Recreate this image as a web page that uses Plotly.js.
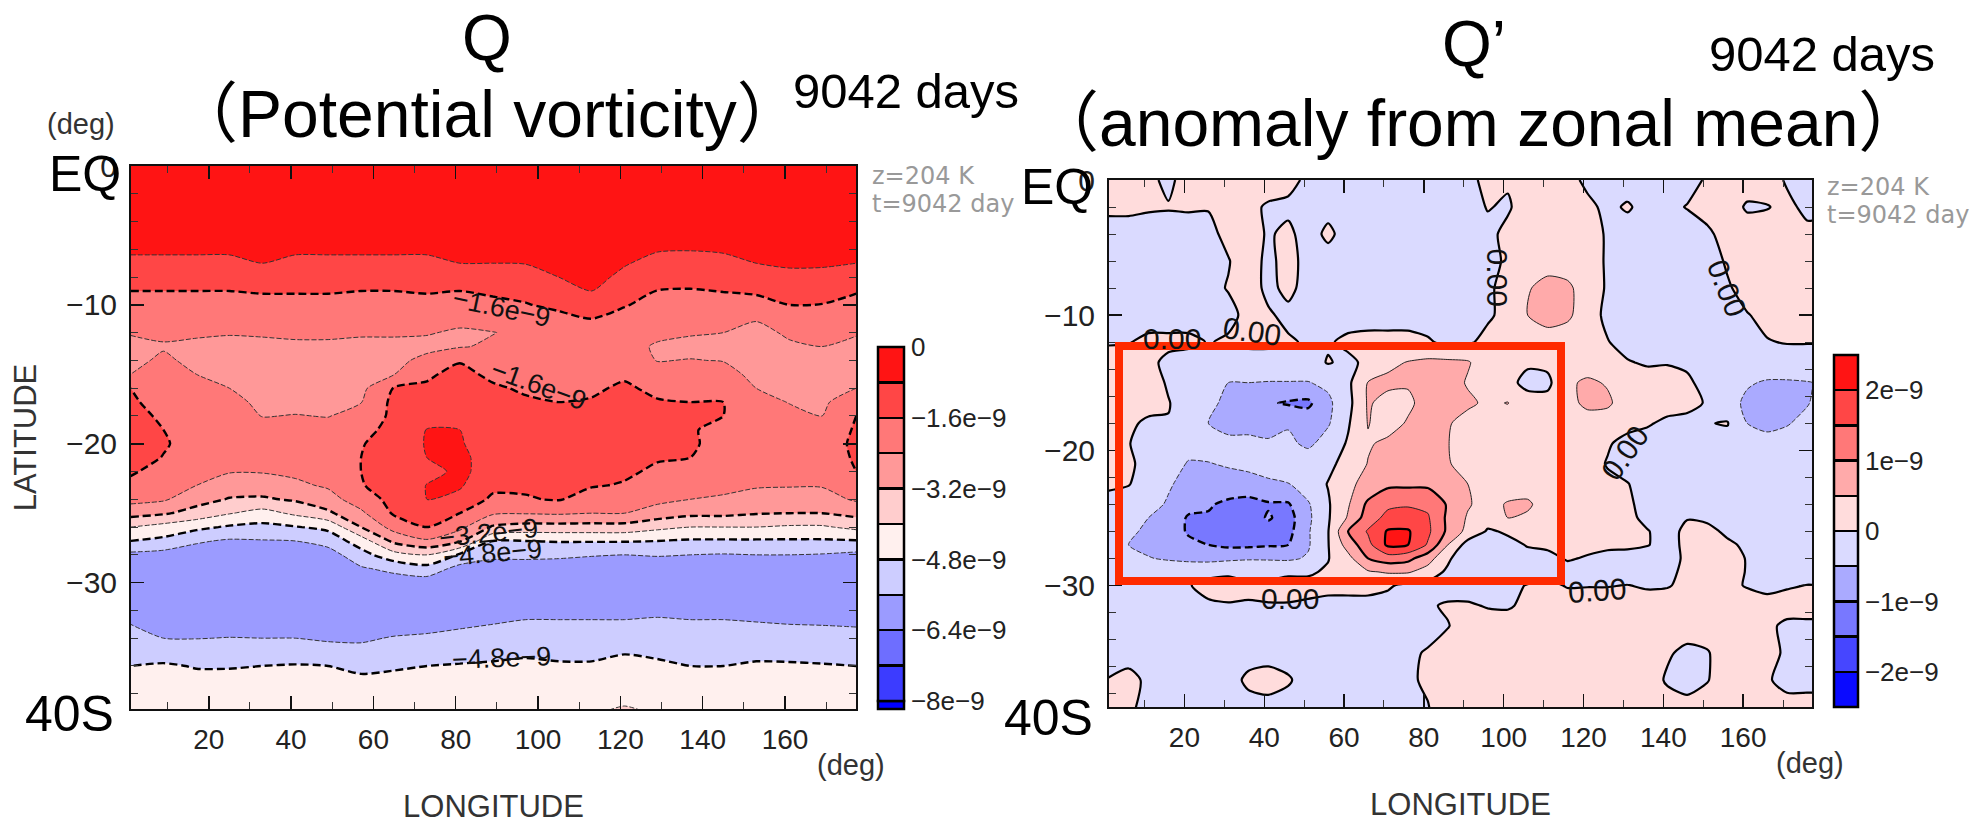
<!DOCTYPE html>
<html><head><meta charset="utf-8">
<script src="https://cdn.plot.ly/plotly-3.0.1.min.js"></script>
<style>html,body{margin:0;padding:0;background:#fff}#c{width:1984px;height:824px}</style>
</head><body><div id="c"></div>
<script>
// ---- Q : potential vorticity, unit 1e-9; one list per longitude
const qLat=[0,-5,-6,-7,-8,-9,-10,-11,-12,-13,-14,-15,-16,-17,-18,-19,-20,-21,-22,-23,-24,-25,-26,-27,-28,-29,-30,-32,-33,-34,-35,-36,-37,-39.2];
const qLon=[1,9,17,25,33,41,49,57,65,73,81,89,97,105,113,121,129,137,145,153,161,169,177.3];
const qColumns=[
[-.2,-.55,-.7,-.95,-1.25,-1.6,-1.85,-2.1,-2.35,-2.6,-2.55,-2.4,-1.6,-1.5,-1.4,-1.4,-1.35,-1.4,-1.5,-1.8,-2.15,-2.9,-4,-4.8,-5.8,-6,-6.1,-5.9,-5.6,-5.35,-5.1,-4.8,-4.55,-4.3],
[-.2,-.55,-.7,-.95,-1.25,-1.6,-1.85,-2.1,-2.3,-2.45,-2.3,-2.15,-2,-1.85,-1.7,-1.6,-1.55,-1.62,-1.9,-2.15,-2.3,-3.1,-4.3,-5,-5.9,-6.1,-6.2,-6.1,-5.8,-5.6,-5.2,-4.7,-4.5,-4.3],
[-.2,-.55,-.7,-.95,-1.25,-1.6,-1.85,-2.1,-2.3,-2.55,-2.55,-2.4,-2.2,-2,-1.9,-1.8,-1.8,-1.9,-2.1,-2.4,-2.9,-3.5,-4.6,-5.5,-6,-6.2,-6.3,-6.2,-5.9,-5.62,-5.2,-4.85,-4.6,-4.3],
[-.2,-.55,-.7,-.95,-1.25,-1.6,-1.85,-2.1,-2.35,-2.6,-2.65,-2.55,-2.4,-2.2,-2,-1.9,-1.9,-2.05,-2.35,-2.8,-3.25,-3.95,-4.9,-5.7,-6.1,-6.2,-6.3,-6.2,-5.9,-5.58,-5.3,-4.85,-4.6,-4.3],
[-.2,-.5,-.65,-.8,-1.15,-1.55,-1.8,-2.1,-2.33,-2.55,-2.7,-2.75,-2.7,-2.55,-2.42,-2.2,-2.1,-2.2,-2.35,-2.8,-3.3,-4.3,-5,-5.65,-6.1,-6.2,-6.3,-6.15,-5.85,-5.6,-5.2,-4.8,-4.55,-4.3],
[-.2,-.55,-.7,-.95,-1.25,-1.55,-1.8,-2.05,-2.3,-2.5,-2.65,-2.7,-2.65,-2.55,-2.38,-2.15,-2.05,-2.1,-2.25,-2.55,-3.1,-3.85,-4.85,-5.6,-6.05,-6.2,-6.3,-6.15,-5.85,-5.6,-5.2,-4.75,-4.55,-4.3],
[-.2,-.55,-.7,-.95,-1.25,-1.55,-1.8,-2.05,-2.3,-2.5,-2.6,-2.65,-2.65,-2.6,-2.42,-2.2,-2.1,-2.1,-2.2,-2.3,-2.7,-3.35,-4.6,-5.3,-5.95,-6.1,-6.2,-6.15,-5.9,-5.7,-5.3,-4.8,-4.55,-4.3],
[-.2,-.55,-.7,-.95,-1.25,-1.6,-1.85,-2.1,-2.33,-2.55,-2.65,-2.65,-2.6,-2.42,-2.2,-1.9,-1.65,-1.6,-1.6,-1.65,-2,-2.55,-3.2,-4.4,-5.1,-5.7,-6.1,-6.2,-5.95,-5.7,-5.4,-5,-4.65,-4.3],
[-.2,-.55,-.7,-.95,-1.25,-1.6,-1.85,-2.1,-2.33,-2.55,-2.6,-2.42,-1.55,-1.4,-1.4,-1.3,-1.25,-1.2,-1.2,-1.25,-1.35,-1.5,-2.1,-3,-4.3,-5.4,-6,-6.1,-5.9,-5.55,-5.2,-4.9,-4.6,-4.3],
[-.2,-.55,-.7,-.95,-1.25,-1.55,-1.8,-2.05,-2.35,-2.6,-2.2,-1.7,-1.5,-1.35,-1,-.78,-.75,-.8,-.95,-.78,-.78,-1.2,-1.6,-2.5,-4,-5.1,-6,-6.1,-5.8,-5.5,-5.15,-4.8,-4.55,-4.3],
[-.2,-.5,-.62,-.8,-1.15,-1.6,-1.85,-2.2,-2.5,-2.45,-1.65,-1.4,-1.3,-1.2,-1,-.8,-.75,-.7,-.7,-.72,-1,-1.6,-2.2,-3.1,-4.9,-5.9,-6.1,-6.05,-5.7,-5.4,-5.05,-4.75,-4.5,-4.25],
[-.2,-.5,-.62,-.8,-1.1,-1.5,-1.75,-2.1,-2.42,-2.3,-2.1,-1.75,-1.5,-1.4,-1.3,-1.2,-1.1,-1,-1,-1.4,-1.75,-2.3,-3.3,-4.8,-5.4,-6,-6.1,-5.9,-5.6,-5.35,-5,-4.7,-4.45,-4.2],
[-.2,-.48,-.6,-.78,-1.05,-1.35,-1.65,-2,-2.25,-2.35,-2.3,-2.1,-1.7,-1.5,-1.45,-1.45,-1.45,-1.45,-1.45,-1.5,-1.65,-2.35,-3.5,-4.8,-5.4,-6,-6.1,-5.8,-5.5,-5.3,-4.95,-4.6,-4.35,-4.1],
[-.2,-.42,-.5,-.65,-.8,-1.1,-1.4,-1.85,-2.15,-2.35,-2.35,-2.2,-1.85,-1.6,-1.5,-1.45,-1.45,-1.45,-1.45,-1.5,-1.55,-2.3,-3.5,-4.75,-5.45,-6,-6.1,-5.8,-5.5,-5.3,-5,-4.7,-4.4,-4.1],
[-.15,-.35,-.42,-.5,-.6,-.8,-1.2,-1.6,-2,-2.2,-2.2,-2,-1.7,-1.55,-1.5,-1.45,-1.45,-1.45,-1.5,-1.55,-1.9,-2.4,-3.5,-4.75,-5.55,-6,-6.1,-5.8,-5.5,-5.3,-5,-4.7,-4.4,-4.05],
[-.2,-.5,-.62,-.75,-.95,-1.25,-1.55,-1.85,-2.1,-2.25,-2.15,-1.7,-1.5,-1.4,-1.4,-1.4,-1.4,-1.45,-1.5,-1.65,-2.1,-2.4,-3.5,-4.75,-5.6,-6,-6.1,-5.8,-5.5,-5.2,-4.85,-4.55,-4.3,-3.95],
[-.2,-.6,-.75,-1,-1.3,-1.62,-1.85,-2.1,-2.3,-2.45,-2.42,-2.2,-1.75,-1.55,-1.45,-1.45,-1.45,-1.55,-1.7,-1.95,-2.2,-2.75,-3.8,-4.8,-5.55,-6,-6.1,-5.75,-5.45,-5.25,-4.95,-4.65,-4.4,-4.05],
[-.2,-.6,-.77,-1.05,-1.33,-1.65,-1.9,-2.1,-2.35,-2.55,-2.38,-2.1,-1.85,-1.6,-1.5,-1.55,-1.5,-1.6,-1.85,-2.1,-2.4,-3,-4,-4.9,-5.6,-6,-6.1,-5.8,-5.5,-5.3,-5.05,-4.8,-4.5,-4.1],
[-.2,-.58,-.72,-1,-1.28,-1.58,-1.85,-2.1,-2.4,-2.6,-2.42,-2.2,-1.95,-1.6,-1.6,-1.75,-1.85,-2,-2.15,-2.3,-2.45,-3,-4,-4.9,-5.65,-6,-6.1,-5.8,-5.5,-5.3,-5.05,-4.8,-4.5,-4.15],
[-.2,-.5,-.65,-.8,-1.1,-1.5,-1.85,-2.35,-2.6,-2.7,-2.65,-2.55,-2.4,-2.2,-1.9,-1.6,-1.85,-2.1,-2.2,-2.35,-2.6,-3.15,-4,-4.9,-5.6,-6,-6.1,-5.85,-5.55,-5.3,-5,-4.7,-4.45,-4.2],
[-.2,-.45,-.58,-.72,-.95,-1.3,-1.6,-2,-2.3,-2.5,-2.6,-2.6,-2.55,-2.42,-2.25,-2.1,-2,-2.05,-2.15,-2.35,-2.75,-3.2,-4.1,-4.9,-5.6,-6,-6.1,-5.9,-5.6,-5.35,-5.05,-4.7,-4.45,-4.25],
[-.2,-.45,-.58,-.72,-.98,-1.33,-1.62,-1.95,-2.25,-2.4,-2.6,-2.65,-2.6,-2.5,-2.4,-2.2,-2,-2.05,-2.2,-2.35,-2.7,-3.2,-4.1,-4.9,-5.65,-6,-6.1,-5.9,-5.62,-5.35,-5.05,-4.75,-4.5,-4.25],
[-.2,-.5,-.65,-.8,-1.15,-1.55,-1.8,-2.1,-2.35,-2.55,-2.65,-2.6,-2.4,-2.05,-1.6,-1.5,-1.45,-1.5,-1.6,-1.95,-2.3,-2.95,-3.8,-4.85,-5.8,-6.05,-6.1,-5.9,-5.65,-5.4,-5.1,-4.8,-4.55,-4.3]
];
// ---- Q' : anomaly from zonal mean, unit 1e-9; one list per latitude
const aLon=[1,6,11,16,21,26,31,36,41,46,51,56,61,66,71,76,81,86,91,96,101,106,111,116,121,126,131,136,141,146,151,156,161,166,171,176,177.3];
const aLat=[0,-2,-4,-6,-8,-10,-12,-13.5,-15,-16.5,-18,-19.5,-21,-22.5,-24,-25,-26,-27,-28,-29,-30,-31.5,-33,-35,-37,-39.2];
const aRows=[
[.2,.2,.1,-.1,.2,.2,.2,.2,.2,.15,-.1,-.2,-.2,-.2,-.2,-.2,-.2,-.2,-.1,.1,.05,.2,.2,.15,-.1,-.15,-.2,-.2,-.2,-.15,.05,.2,.2,.2,-.05,-.2,-.2],
[.1,.1,.05,.03,.05,.02,.15,.1,-.05,-.1,-.2,-.15,-.2,-.2,-.2,-.2,-.2,-.2,-.15,.02,-.05,.2,.2,.2,.1,-.1,.05,-.15,-.1,.02,.1,.2,-.05,-.02,.1,-.1,-.1],
[-.2,-.2,-.2,-.2,-.2,-.1,.1,.2,-.05,.1,-.2,.1,-.2,-.2,-.2,-.2,-.2,-.2,-.2,-.1,.1,.2,.2,.2,.2,-.05,-.2,-.2,-.2,-.2,-.05,.1,.2,.2,.1,.1,.1],
[-.2,-.2,-.2,-.2,-.2,-.15,-.02,.2,-.1,.15,-.15,-.2,-.2,-.2,-.2,-.2,-.2,-.2,-.2,-.1,.05,.25,.25,.25,.2,-.05,-.2,-.2,-.2,-.2,-.2,.05,.2,.2,.2,.2,.2],
[-.2,-.2,-.2,-.2,-.2,-.1,.02,.2,-.1,.1,-.15,-.2,-.2,-.2,-.2,-.2,-.2,-.2,-.2,-.05,.1,.45,.7,.6,.25,-.05,-.2,-.2,-.2,-.2,-.2,-.05,.15,.2,.2,.2,.2],
[-.2,-.2,-.2,-.2,-.2,-.2,-.1,.1,.05,-.1,-.2,-.2,-.2,-.2,-.2,-.2,-.2,-.2,-.2,-.05,.1,.5,.75,.6,.2,-.1,-.2,-.2,-.2,-.2,-.2,-.15,-.02,.1,.2,.2,.2],
[-.02,-.02,.1,.1,.1,-.02,.05,.1,.1,.05,-.05,-.05,.1,.15,.15,.15,.05,-.1,-.05,.1,.15,.2,.2,.2,.15,.02,-.15,-.2,-.2,-.2,-.2,-.2,-.1,-.02,.02,.02,.02],
[.1,.2,.1,-.1,-.2,-.2,-.2,-.2,-.2,-.2,-.2,.03,-.1,.1,.4,.52,.6,.6,.55,.2,.1,.05,.1,.2,.2,.15,.03,-.05,-.03,-.05,-.2,-.2,-.2,-.2,-.2,-.2,-.2],
[.1,.2,.2,-.05,-.2,-.2,-.5,-.5,-.52,-.52,-.52,-.4,-.1,.52,.6,.55,.7,.75,.45,.2,.1,-.1,-.1,.4,.6,.45,.2,.2,.2,.05,-.1,-.2,-.45,-.55,-.55,-.52,-.5],
[.15,.2,.2,.02,-.2,-.35,-.65,-.7,-.95,-1.05,-1.1,-.6,-.15,.55,.35,.4,.7,.75,.6,.4,.52,.15,.15,.3,.65,.6,.2,.2,.2,.1,-.03,-.3,-.6,-.7,-.65,-.55,-.45],
[.2,.1,-.1,-.02,-.2,-.5,-.7,-.7,-.65,-.55,-.7,-.55,-.05,.52,.3,.55,.7,.55,.3,.2,.2,.2,.2,.2,.2,.2,.15,.05,-.1,-.1,-.02,.03,-.5,-.65,-.55,-.3,-.2],
[.1,.02,-.2,-.2,-.25,-.3,-.35,-.35,-.45,-.4,-.6,-.3,.05,.45,.6,.7,.7,.52,.2,.2,.2,.2,.2,.2,.2,.05,-.15,-.2,-.2,-.2,-.2,-.2,-.2,-.3,-.2,-.15,-.15],
[.1,.05,-.1,-.2,-.55,-.52,-.45,-.4,-.25,-.2,-.2,-.1,.15,.52,.7,.8,.75,.55,.25,.2,.2,.2,.2,.2,.2,-.03,-.2,-.2,-.2,-.2,-.2,-.2,-.2,-.2,-.2,-.2,-.2],
[.05,.02,-.2,-.45,-.65,-.7,-.7,-.65,-.6,-.52,-.25,.02,.4,.65,.9,.9,.9,.75,.5,.25,.2,.2,.2,.2,.2,.1,.02,-.2,-.2,-.2,-.2,-.2,-.2,-.2,-.2,-.2,-.2],
[-.1,-.2,-.35,-.55,-.85,-.95,-1.1,-1.2,-1.05,-1.05,-.55,-.05,.45,1.1,1.4,1.45,1.4,.95,.55,.3,.55,.6,.2,.2,.2,.15,.05,-.1,-.2,-.2,-.2,-.2,-.2,-.2,-.2,-.2,-.2],
[-.2,-.35,-.5,-.7,-1.05,-1.05,-1.25,-1.25,-.95,-1.2,-.6,-.05,.55,1.25,1.65,1.7,1.55,.9,.45,.2,.5,.4,.2,.2,.2,.15,.1,-.1,-.2,-.02,-.1,-.2,-.2,-.2,-.2,-.2,-.2],
[-.2,-.45,-.55,-.75,-1.05,-1.05,-1.25,-1.25,-1.2,-1.15,-.55,-.02,1,1.55,2.05,2.05,1.6,.9,.35,-.05,.05,.15,.2,.2,.2,.15,.1,.02,-.15,.1,.15,-.1,-.2,-.2,-.2,-.2,-.2],
[-.2,-.5,-.6,-.65,-.9,-1,-1.1,-1.1,-1.05,-1,-.55,-.02,.7,1.35,2.1,2,1.45,.5,-.2,-.25,-.1,.02,.1,.1,.15,.1,.1,.02,-.15,.1,.15,.1,-.1,-.2,-.2,-.2,-.2],
[-.2,-.3,-.48,-.55,-.6,-.65,-.6,-.55,-.55,-.58,-.45,-.02,.35,1,1.25,1.15,.7,.1,-.45,-.3,-.1,-.1,-.15,.05,-.05,-.15,-.2,-.2,-.2,.1,.15,.15,-.02,-.2,-.2,-.2,-.2],
[-.2,-.2,-.2,-.2,-.2,-.1,-.05,-.1,-.15,-.05,-.05,.05,.2,.45,.55,.55,.3,-.1,-.15,-.05,-.2,-.2,-.2,-.2,-.2,-.2,-.2,-.2,-.1,.1,.15,.15,-.02,-.2,-.2,-.2,-.2],
[-.2,-.2,-.2,-.2,-.02,.1,.1,.05,.1,.1,.1,.1,.15,.15,.05,-.1,-.15,-.2,-.2,-.15,-.1,.02,.1,-.03,-.02,-.02,.01,-.05,-.03,.1,.15,.1,-.03,-.15,-.05,.01,.01],
[-.2,-.2,-.2,-.2,-.2,-.05,-.02,-.02,-.02,-.02,-.05,-.1,-.15,-.15,-.15,-.15,-.05,.05,.05,-.03,-.05,.1,.2,.2,.2,.2,.2,.2,.2,.2,.2,.2,.2,.2,.2,.2,.2],
[-.2,-.2,-.2,-.2,-.2,-.2,-.2,-.2,-.2,-.2,-.2,-.2,-.2,-.2,-.2,-.2,-.2,-.02,.2,.2,.2,.2,.2,.2,.2,.2,.2,.2,.2,.2,.2,.2,.2,.1,-.1,-.1,-.1],
[-.2,-.2,-.2,-.2,-.2,-.2,-.2,-.2,-.2,-.2,-.2,-.2,-.2,-.2,-.2,-.1,.05,.2,.2,.2,.2,.2,.2,.2,.2,.2,.2,.2,.05,-.1,-.03,.2,.2,.1,-.05,-.05,-.05],
[.02,.15,-.1,-.2,-.2,-.2,-.2,.1,.2,.05,-.2,-.2,-.2,-.2,-.2,-.05,.05,.2,.2,.2,.2,.2,.2,.02,.2,.2,.2,.2,-.05,-.2,-.02,.2,.2,.05,-.15,-.15,-.15],
[.05,.05,-.1,-.2,-.2,-.2,-.2,-.2,-.2,-.2,-.2,-.2,-.2,-.2,-.2,-.1,-.02,.2,.2,.2,.2,.2,.2,.2,.2,.2,.2,.2,.2,.2,.2,.2,.2,.2,.2,.2,.2]
];
// ---- colour bands, low to high
const qBandColors=['#3c3cff','#6e6eff','#9b9bff','#cdcdff','#fff0ee','#ffcdcd','#ff9898','#ff7878','#ff4646','#ff1414'];
const aBandColors=['#0a0aff','#4646ff','#7878ff','#aaaaff','#dadaff','#ffdcdc','#ffaaaa','#ff7878','#ff4646','#ff1414'];
const qBarTicks=[0,-.8,-1.6,-2.4,-3.2,-4,-4.8,-5.6,-6.4,-7.2,-8];
const qBarText=['0','','−1.6e−9','','−3.2e−9','','−4.8e−9','','−6.4e−9','','−8e−9'];
const aBarTicks=[2.5,2,1.5,1,.5,0,-.5,-1,-1.5,-2];
const aBarText=['','2e−9','','1e−9','','0','','−1e−9','','−2e−9'];
const lonTicks=[20,40,60,80,100,120,140,160];
const latTicks=[0,-10,-20,-30];
const latTickText=['0','−10','−20','−30'];

function stepScale(cols){const n=cols.length,o=[];cols.forEach((c,i)=>{o.push([i/n,c]);o.push([(i+1)/n,c]);});return o;}
const W=1984,H=824, px=x=>x/W, py=y=>1-y/H;
const sans='Liberation Sans, Arial, sans-serif';

function axisX(dom,anchor){return {domain:dom,anchor:anchor,range:[1.1,177.25],tickvals:lonTicks,ticktext:lonTicks.map(String),ticks:'inside',ticklen:13,tickwidth:1.5,tickcolor:'#111',
  minor:{dtick:10,tick0:0,ticks:'inside',ticklen:7,tickwidth:1,tickcolor:'#333'},showline:true,linecolor:'#111',linewidth:2,mirror:'allticks',showgrid:false,zeroline:false,
  tickfont:{family:sans,size:28,color:'#222'},ticklabelstandoff:4,
  title:{text:'LONGITUDE',font:{family:sans,size:31,color:'#333'},standoff:42}};}
function axisY(dom,anchor,low,withTitle){const a={domain:dom,anchor:anchor,range:[low,0],tickvals:latTicks,ticktext:latTickText,ticks:'inside',ticklen:13,tickwidth:1.5,tickcolor:'#111',
  minor:{dtick:2,tick0:0,ticks:'inside',ticklen:7,tickwidth:1,tickcolor:'#333'},showline:true,linecolor:'#111',linewidth:2,mirror:'allticks',showgrid:false,zeroline:false,
  tickfont:{family:sans,size:30,color:'#222'},ticklabelstandoff:6};
  if(withTitle)a.title={text:'LATITUDE',font:{family:sans,size:31,color:'#333'},standoff:20};return a;}

function bar(xpx,top,len,thick,vals,text){return {x:px(xpx),xanchor:'left',xref:'paper',y:py(top),yanchor:'top',yref:'paper',lenmode:'pixels',len:len,thicknessmode:'pixels',thickness:thick,xpad:0,ypad:0,
  outlinecolor:'#000',outlinewidth:2.5,tickmode:'array',tickvals:vals,ticktext:text,ticks:'inside',ticklen:thick,tickwidth:2.5,tickcolor:'#000',tickfont:{family:sans,size:26,color:'#222'}};}

function fill(x,y,z,transpose,start,end,size,zmin,zmax,cols,xa,ya,cb){return {type:'contour',x:x,y:y,z:z,transpose:transpose,xaxis:xa,yaxis:ya,zmin:zmin,zmax:zmax,colorscale:stepScale(cols),autocontour:false,
  contours:{start:start,end:end,size:size,coloring:'fill',showlines:false},line:{width:0,smoothing:.7},colorbar:cb,hoverinfo:'skip'};}
function lines(x,y,z,transpose,start,end,size,width,dash,color,xa,ya){return {type:'contour',x:x,y:y,z:z,transpose:transpose,xaxis:xa,yaxis:ya,autocontour:false,showscale:false,
  contours:{start:start,end:end,size:size,coloring:'none'},line:{width:width,dash:dash,color:color,smoothing:.7},hoverinfo:'skip'};}

const traces=[
 fill(qLon,qLat,qColumns,true,-7.2,-0.8,.8,-8,0,qBandColors,'x','y',bar(878,347,354,26,qBarTicks,qBarText)),
 lines(qLon,qLat,qColumns,true,-7.2,-.8,1.6,1,'5px,2px','#333','x','y'),
 lines(qLon,qLat,qColumns,true,-8,-1.6,1.6,2.4,'8px,4px','#000','x','y'),
 fill(aLon,aLat,aRows,false,-2,2,.5,-2.5,2.5,aBandColors,'x2','y2',bar(1834,355,352,24,aBarTicks,aBarText)),
 lines(aLon,aLat,aRows,false,.5,1.5,1,1,'solid','#222','x2','y2'),
 lines(aLon,aLat,aRows,false,-1.5,-.5,1,1,'5px,2px','#333','x2','y2'),
 lines(aLon,aLat,aRows,false,0,2,1,2.2,'solid','#000','x2','y2'),
 lines(aLon,aLat,aRows,false,-2,-1,1,2.4,'8px,4px','#000','x2','y2')
];

const arial='Liberation Sans, Noto Sans CJK JP, Arial, sans-serif', gray='DejaVu Sans, sans-serif';
function pageText(t,x,y,size,color,anchor,family){return {text:t,xref:'paper',yref:'paper',x:px(x),y:py(y),xanchor:anchor||'center',yanchor:'middle',showarrow:false,font:{family:family||arial,size:size,color:color||'#000'}};}
function mapLabel(t,lon,lat,ang,xa,ya,size){return {text:t,xref:xa,yref:ya,x:lon,y:lat,textangle:ang,showarrow:false,borderpad:0,font:{family:sans,size:size,color:'#111'}};}

const annotations=[
 pageText('Q',487,38,64), pageText('（Potential vorticity）',487,114,66),
 pageText('Q’',1474,44,64), pageText('（anomaly from zonal mean）',1478,123,66),
 pageText('9042 days',906,91,49), pageText('9042 days',1822,54,49),
 pageText('EQ',47,174,50,'#000','left'), pageText('40S',23,714,50,'#000','left'),
 pageText('EQ',1019,187,50,'#000','left'), pageText('40S',1002,718,50,'#000','left'),
 pageText('(deg)',81,124,29,'#333'), pageText('(deg)',851,765,29,'#333'), pageText('(deg)',1810,763,29,'#333'),
 pageText('z=204 K',870,176,24,'#999','left',gray), pageText('t=9042 day',870,204,24,'#999','left',gray),
 pageText('z=204 K',1825,187,24,'#999','left',gray), pageText('t=9042 day',1825,215,24,'#999','left',gray),
 mapLabel('−1.6e−9',91,-10.2,12,'x','y',27), mapLabel('−1.6e−9',100,-15.8,20,'x','y',27),
 mapLabel('−3.2e−9',88,-26.4,-6,'x','y',27), mapLabel('−4.8e−9',89,-27.9,-5,'x','y',27), mapLabel('−4.8e−9',91,-35.4,-2,'x','y',27),
 mapLabel('0.00',98.5,-7.2,90,'x2','y2',30), mapLabel('0.00',156,-8,68,'x2','y2',30), mapLabel('0.00',130.5,-20.2,-55,'x2','y2',30),
 mapLabel('0.00',46.5,-31,0,'x2','y2',30), mapLabel('0.00',123.5,-30.4,-4,'x2','y2',30), mapLabel('0.00',17,-11.7,0,'x2','y2',30), mapLabel('0.00',37,-11.2,8,'x2','y2',30)
];

const layout={width:W,height:H,margin:{l:0,r:0,t:0,b:0,autoexpand:false},paper_bgcolor:'#fff',plot_bgcolor:'#fff',showlegend:false,
 xaxis:axisX([px(131),px(856)],'y'),yaxis:axisY([py(709),py(166)],'x',-39.1,true),
 xaxis2:axisX([px(1109),px(1812)],'y2'),yaxis2:axisY([py(707),py(180)],'x2',-39,false),
 annotations:annotations,
 shapes:[
  {type:'rect',xref:'paper',yref:'paper',x0:px(1119),x1:px(1561),y0:py(346),y1:py(581),line:{color:'#ff2a00',width:8},layer:'above'},
  {type:'rect',xref:'paper',yref:'paper',x0:px(878),x1:px(904),y0:py(701),y1:py(709),fillcolor:'#0000ff',line:{color:'#000',width:2.5},layer:'above'}
 ]};
Plotly.newPlot('c',traces,layout,{displayModeBar:false,staticPlot:true});
</script></body></html>
